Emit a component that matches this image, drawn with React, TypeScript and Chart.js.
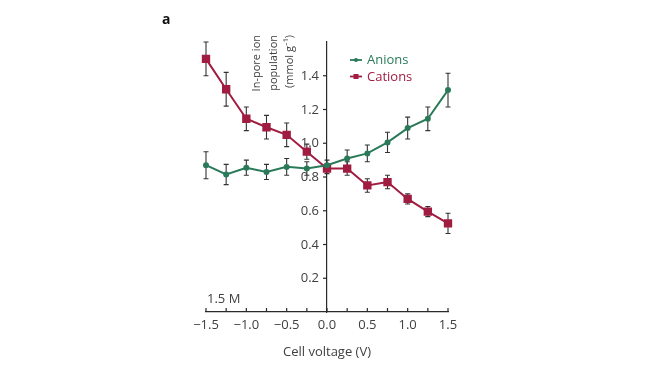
import { useEffect, useRef } from "react";
import { Chart, registerables } from "chart.js";

Chart.register(...registerables);

const voltages = [-1.5, -1.25, -1.0, -0.75, -0.5, -0.25, 0, 0.25, 0.5, 0.75, 1.0, 1.25, 1.5];
const anions = [0.87, 0.815, 0.855, 0.83, 0.86, 0.85, 0.87, 0.91, 0.94, 1.005, 1.09, 1.145, 1.315];
const anionErr = [0.08, 0.06, 0.045, 0.045, 0.05, 0.04, 0.03, 0.05, 0.05, 0.06, 0.065, 0.07, 0.1];
const cations = [1.5, 1.32, 1.145, 1.095, 1.05, 0.95, 0.85, 0.85, 0.75, 0.77, 0.67, 0.595, 0.525];
const cationErr = [0.1, 0.1, 0.07, 0.07, 0.07, 0.045, 0.03, 0.04, 0.04, 0.04, 0.03, 0.03, 0.06];
const xTickValues = [-1.5, -1.0, -0.5, 0, 0.5, 1.0, 1.5];
const yTickValues = [0.2, 0.4, 0.6, 0.8, 1.0, 1.2, 1.4];
const seriesNames = ["Anions", "Cations"];
const yTitleLines = ["In-pore ion", "population", "(mmol g\u207B\u00B9)"];
const xTitle = "Cell voltage (V)";
const panelLabel = "a";
const concLabel = "1.5 M";

const GREEN = "#2a7a5a";
const RED = "#a01c40";
const TEXT = "#404040";
const AXIS = "#2a2a2a";
const FONT = "'Open Sans', sans-serif";

const fmt = (v: number) => {
  const s = Math.abs(v).toFixed(1);
  return v < 0 ? "\u2212" + s : s;
};

const errorBars = {
  id: "errorBars",
  beforeDatasetsDraw(chart: any) {
    const ctx = chart.ctx;
    const xs = chart.scales.x;
    const ys = chart.scales.y;
    const sets = [
      { vals: anions, errs: anionErr },
      { vals: cations, errs: cationErr },
    ];
    ctx.save();
    ctx.strokeStyle = "#333";
    ctx.lineWidth = 1.1;
    sets.forEach(({ vals, errs }) => {
      vals.forEach((v, i) => {
        const x = xs.getPixelForValue(voltages[i]);
        const yt = ys.getPixelForValue(v + errs[i]);
        const yb = ys.getPixelForValue(v - errs[i]);
        ctx.beginPath();
        ctx.moveTo(x, yt);
        ctx.lineTo(x, yb);
        ctx.moveTo(x - 2.5, yt);
        ctx.lineTo(x + 2.5, yt);
        ctx.moveTo(x - 2.5, yb);
        ctx.lineTo(x + 2.5, yb);
        ctx.stroke();
      });
    });
    ctx.restore();
  },
};

const decorations = {
  id: "decorations",
  afterDraw(chart: any) {
    const ctx = chart.ctx;
    const xs = chart.scales.x;
    const ys = chart.scales.y;
    const area = chart.chartArea;
    const x0 = xs.getPixelForValue(0);
    ctx.save();
    // inward x minor ticks
    ctx.strokeStyle = AXIS;
    ctx.lineWidth = 1.2;
    voltages.forEach((v) => {
      const x = xs.getPixelForValue(v);
      ctx.beginPath();
      ctx.moveTo(x, area.bottom);
      ctx.lineTo(x, area.bottom - 4);
      ctx.stroke();
    });
    // y tick marks and labels, left of the centred axis
    ctx.fillStyle = TEXT;
    ctx.font = `13px ${FONT}`;
    ctx.textAlign = "right";
    ctx.textBaseline = "middle";
    ys.ticks.forEach((t: any) => {
      const y = ys.getPixelForValue(t.value);
      ctx.beginPath();
      ctx.moveTo(x0, y);
      ctx.lineTo(x0 - 4, y);
      ctx.stroke();
      ctx.fillText(Number(t.value).toFixed(1), x0 - 8, y + 0.5);
    });
    // y title (rotated, three lines)
    ctx.font = `11px ${FONT}`;
    ctx.textAlign = "right";
    yTitleLines.forEach((line, i) => {
      ctx.save();
      ctx.translate(x0 - 70 + i * 16.5, area.top - 7);
      ctx.rotate(-Math.PI / 2);
      ctx.fillText(line, 0, 0);
      ctx.restore();
    });
    // legend
    const colors = [GREEN, RED];
    ctx.font = `13px ${FONT}`;
    ctx.textAlign = "left";
    seriesNames.forEach((name, i) => {
      const ly = 60 + i * 16.5;
      const lx = x0 + 23;
      ctx.strokeStyle = colors[i];
      ctx.fillStyle = colors[i];
      ctx.lineWidth = 1.8;
      ctx.beginPath();
      ctx.moveTo(lx, ly);
      ctx.lineTo(lx + 12, ly);
      ctx.stroke();
      if (i === 0) {
        ctx.beginPath();
        ctx.arc(lx + 6, ly, 2, 0, Math.PI * 2);
        ctx.fill();
      } else {
        ctx.fillRect(lx + 3.5, ly - 2.5, 5, 5);
      }
      ctx.fillText(name, lx + 17, ly + 0.5);
    });
    // panel label and concentration
    ctx.fillStyle = "#111";
    ctx.font = `bold 14px ${FONT}`;
    ctx.fillText(panelLabel, 162, 20);
    ctx.fillStyle = TEXT;
    ctx.font = `13px ${FONT}`;
    ctx.fillText(concLabel, area.left + 1, area.bottom - 13);
    ctx.restore();
  },
};

export default function App() {
  const ref = useRef<HTMLCanvasElement | null>(null);
  useEffect(() => {
    if (!ref.current) return;
    const chart = new Chart(ref.current, {
      type: "line",
      data: {
        datasets: [
          {
            label: seriesNames[0],
            data: voltages.map((v, i) => ({ x: v, y: anions[i] })),
            borderColor: GREEN,
            backgroundColor: GREEN,
            borderWidth: 2,
            pointRadius: 2,
            pointStyle: "circle",
            clip: false,
          },
          {
            label: seriesNames[1],
            data: voltages.map((v, i) => ({ x: v, y: cations[i] })),
            borderColor: RED,
            backgroundColor: RED,
            borderWidth: 2,
            pointRadius: 4.5,
            pointStyle: "rect",
            clip: false,
          },
        ],
      },
      options: {
        animation: false,
        responsive: false,
        maintainAspectRatio: false,
        layout: { padding: { left: 206, right: 214, top: 42, bottom: 10 } },
        plugins: { legend: { display: false }, tooltip: { enabled: false } },
        scales: {
          x: {
            type: "linear",
            min: -1.5,
            max: 1.5,
            afterFit: (s: any) => {
              s.height = 48;
            },
            afterBuildTicks: (s: any) => {
              s.ticks = xTickValues.map((v) => ({ value: v }));
            },
            ticks: {
              callback: (v: any) => fmt(Number(v)),
              color: TEXT,
              font: { family: FONT, size: 13 },
              padding: 5,
              maxRotation: 0,
              autoSkip: false,
            },
            grid: { display: false, drawTicks: false },
            border: { display: true, color: AXIS, width: 1.2 },
            title: {
              display: true,
              text: xTitle,
              color: TEXT,
              font: { family: FONT, size: 13 },
              padding: { top: 0, bottom: 0 },
            },
          },
          y: {
            type: "linear",
            position: { x: 0 } as any,
            min: 0,
            max: 1.6,
            afterBuildTicks: (s: any) => {
              s.ticks = yTickValues.map((v) => ({ value: v }));
            },
            ticks: { display: false },
            grid: { display: false, drawOnChartArea: false, drawTicks: false },
            border: { display: true, color: AXIS, width: 1.2 },
          },
        },
      },
      plugins: [errorBars, decorations],
    });
    return () => chart.destroy();
  }, []);
  return (
    <div style={{ position: "fixed", left: 0, top: 0, width: 662, height: 370, background: "#fff" }}>
      <canvas ref={ref} width={662} height={370} />
    </div>
  );
}
